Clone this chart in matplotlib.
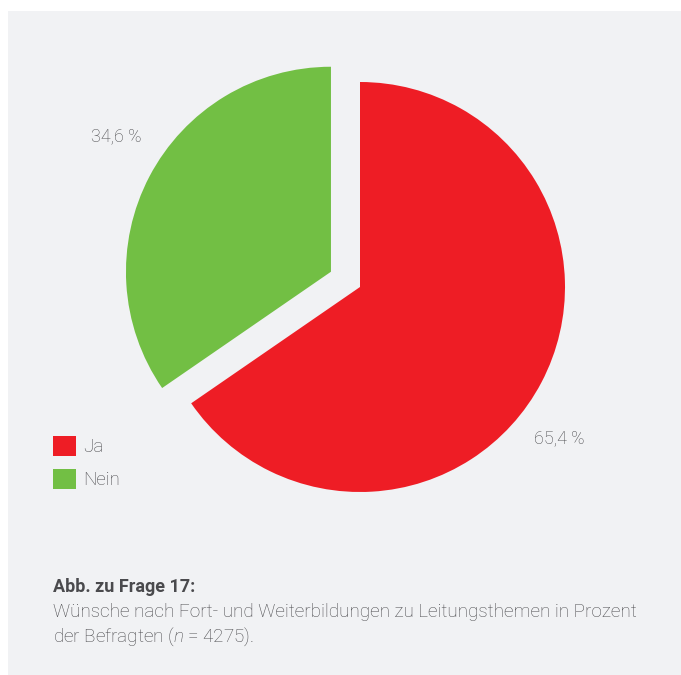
import matplotlib
matplotlib.use("Agg")
import matplotlib.pyplot as plt

categories = ["Ja", "Nein"]
values = [65.4, 34.6]
colors = ["#ee1d25", "#72bf44"]
explode = [0, 0.16]

bg = "#f1f2f4"
txt = "#4a4a4d"

plt.rcParams["font.family"] = ["Roboto", "DejaVu Sans"]
plt.rcParams["mathtext.fontset"] = "custom"
plt.rcParams["mathtext.it"] = "Roboto:italic:light"
plt.rcParams["mathtext.rm"] = "Roboto:light"

W, H = 681, 675
fig = plt.figure(figsize=(W / 100, H / 100), dpi=100)
fig.patch.set_facecolor("white")

# grey panel behind everything
panel = plt.Rectangle((8 / W, 0), 1 - 8 / W, 1 - 11 / H, transform=fig.transFigure,
                      facecolor=bg, edgecolor="none", zorder=-5)
fig.patches.append(panel)

# pie axes: centre at (360, 287) px, radius 205 px
R = 205
lim = 1.2
cx, cy = 360, 287
ax = fig.add_axes([(cx - lim * R) / W, (H - cy - lim * R) / H,
                   2 * lim * R / W, 2 * lim * R / H])
ax.set_zorder(2)
ax.set_facecolor("none")
wedges, _ = ax.pie(values, colors=colors, explode=explode, startangle=90,
                   counterclock=False, radius=1,
                   wedgeprops=dict(linewidth=0))
ax.set_xlim(-lim, lim)
ax.set_ylim(-lim, lim)
ax.axis("off")

def pct(v):
    return f"{v:.1f}".replace(".", ",") + " %"

ax.text(0.97, -0.74, pct(values[0]), ha="center", va="center",
        fontsize=13, color=txt, fontweight="light")
ax.text(-1.19, 0.737, pct(values[1]), ha="center", va="center",
        fontsize=13, color=txt, fontweight="light")

leg = fig.legend(wedges, categories, loc="upper left",
                 bbox_to_anchor=(36 / W, 1 - 419 / H), frameon=False,
                 handlelength=1.25, handleheight=1.25, handletextpad=0.35,
                 labelspacing=0.7, fontsize=13.5)
leg.set_zorder(3)
for t in leg.get_texts():
    t.set_color(txt)
    t.set_fontweight("light")

fig.text(53 / W, 1 - 592 / H, "Abb. zu Frage 17:", fontsize=13,
         fontweight="bold", color=txt, va="baseline")
fig.text(53 / W, 1 - 617 / H,
         "Wünsche nach Fort- und Weiterbildungen zu Leitungsthemen in Prozent",
         fontsize=13.6, color=txt, fontweight="light", va="baseline")
fig.text(53 / W, 1 - 642 / H, "der Befragten ($n$ = 4275).",
         fontsize=13.6, color=txt, fontweight="light", va="baseline")

fig.savefig("out.png", dpi=100, facecolor=fig.get_facecolor())
